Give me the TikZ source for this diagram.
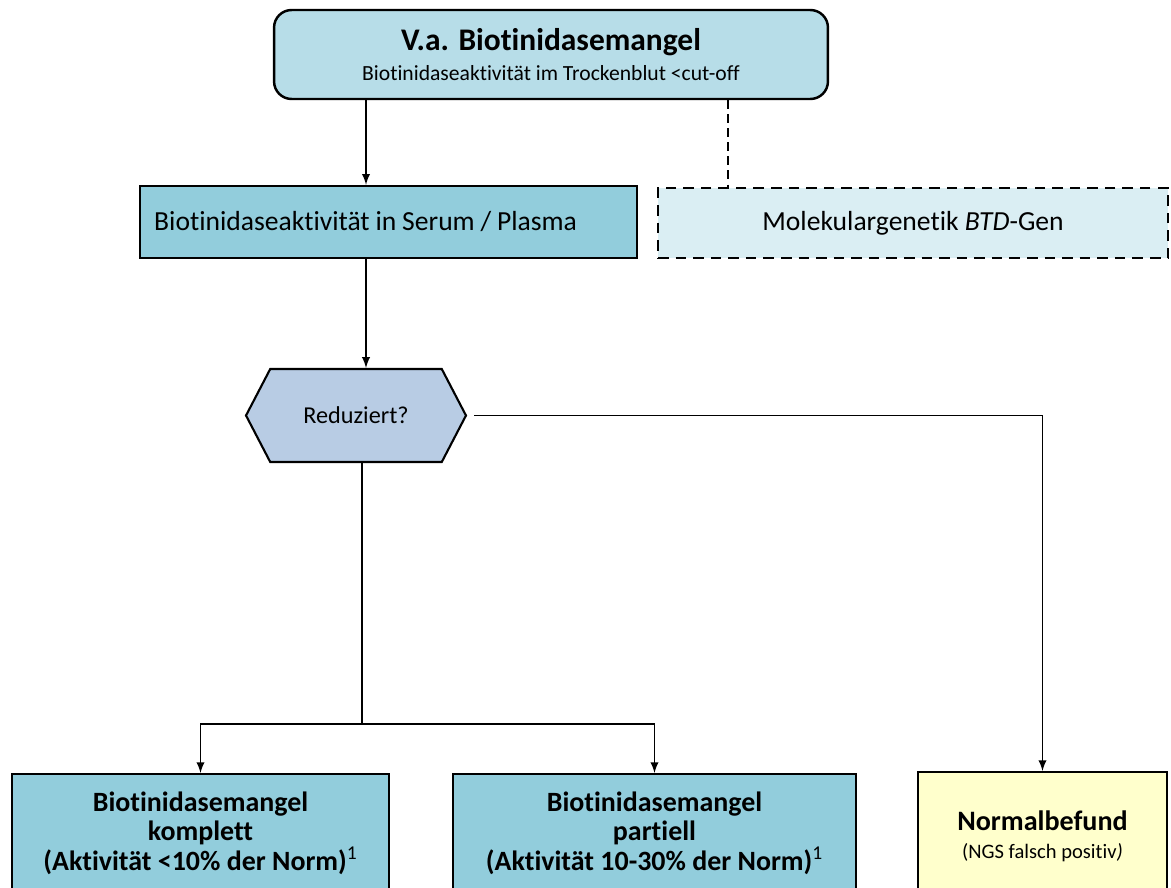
\documentclass[tikz,border=0pt]{standalone}
\usepackage{fontspec}
\setmainfont[Ligatures=NoCommon]{Carlito}
\usepackage{tikz}
\usetikzlibrary{shapes.geometric,shapes.symbols}
\usetikzlibrary{positioning,calc}
\usepackage{xcolor}
\definecolor{hellblau}{HTML}{B7DDE8}
\definecolor{mittelblau}{HTML}{92CDDC}
\definecolor{blassblau}{HTML}{DAEEF3}
\definecolor{graublau}{HTML}{B8CCE4}
\definecolor{hellgelb}{HTML}{FFFFCC}

\begin{document}
\begin{tikzpicture}[x=0.02cm, y=-0.02cm]
        % Define block styles
        \tikzstyle{block} = [rectangle, draw, line width=1.4pt, fill=mittelblau, inner sep=0pt, align=center]
        \tikzstyle{line} = [draw, line width=1.1pt, -latex]
        \tikzstyle{frage} = [signal, signal to=east and west, signal pointer angle=125, draw, line width=1.2pt, fill=graublau, minimum width=4.4cm, minimum height=1.86cm, inner sep=0pt]
        \tikzstyle{ergebnis} = [block, anchor=north, minimum height=2.36cm, font=\fontsize{15.9}{17}\selectfont\bfseries]

        \clip (0,0) rectangle (1171,888);

        % Nodes
        \node [block, rounded corners=10pt, fill=hellblau, minimum width=11.08cm, minimum height=1.78cm] (vadb) at (551,54.5)
            {{\fontsize{17.9}{20}\selectfont\bfseries V.a. Biotinidasemangel}\\[5pt]
             {\fontsize{12.3}{14}\selectfont Biotinidaseaktivität im Trockenblut <cut-off}};
        \node [block, anchor=west, text width=9.38cm, inner xsep=0.28cm, minimum height=1.44cm, align=left] (serum) at (139,222)
            {\fontsize{15.7}{18}\selectfont Biotinidaseaktivität in Serum / Plasma};
        \node [block, dashed, dash pattern=on 6pt off 4pt, fill=blassblau, minimum width=10.2cm, minimum height=1.4cm] (molek) at (913,223)
            {\fontsize{15.7}{18}\selectfont Molekulargenetik \textit{BTD}-Gen};
        \node [frage] (reduz) at (356,415.5) {\fontsize{13.8}{16}\selectfont Reduziert?};
        \node [ergebnis, minimum width=7.54cm] (komplett) at (200.5,773)
            {Biotinidasemangel\\komplett\\(Aktivität <10\% der Norm)\textsuperscript{\normalfont 1}};
        \node [ergebnis, minimum width=8.06cm] (partiell) at (654.5,773)
            {Biotinidasemangel\\partiell\\(Aktivität 10-30\% der Norm)\textsuperscript{\normalfont 1}};
        \node [block, anchor=north, fill=hellgelb, minimum width=4.98cm, minimum height=2.56cm] (normal) at (1042.5,771)
            {{\fontsize{16}{19}\selectfont\bfseries Normalbefund}\\[4pt]
             {\fontsize{11.7}{13}\selectfont (NGS falsch positiv\textit{)}}};
        \coordinate (dashx) at (728,0);
        \coordinate (split) at (362,724);
        \coordinate (pfeilx) at (366,0);

        % Arrows
        \path [line] (vadb.south -| pfeilx) -- (serum.north -| pfeilx);
        \path [line] (serum.south -| pfeilx) -- (reduz.north -| pfeilx);
        \draw [line width=1.1pt, dashed, dash pattern=on 5pt off 3pt] (vadb.south -| dashx) -- (molek.north -| dashx);
        \path [line] ([xshift=4pt]reduz.east) -| (normal.north);
        \draw [line width=1.1pt] (reduz.south -| split) -- (split);
        \path [line] (split) -| (komplett.north);
        \path [line] (split) -| (partiell.north);

    \end{tikzpicture}
\end{document}
